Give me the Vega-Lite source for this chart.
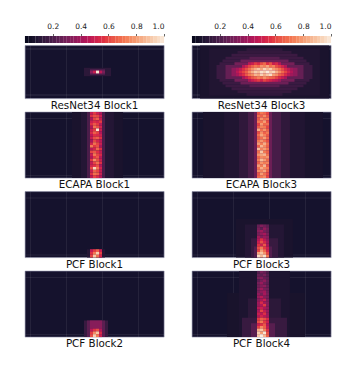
{"$schema":"https://vega.github.io/schema/vega-lite/v6.json","background":"white","padding":{"left":24,"top":22,"right":0,"bottom":0},"bounds":"flush","spacing":9.5,
"config":{"view":{"fill":"#15122d","stroke":"#8f8fa8","strokeWidth":0.6},"font":"DejaVu Sans","title":{"fontSize":10.35,"fontWeight":"normal","color":"#111111","orient":"bottom","offset":2,"anchor":"middle"},"axis":{"title":null,"labels":false,"ticks":false,"domain":false,"grid":true,"gridColor":"#ffffff","gridOpacity":0.07,"gridWidth":1,"zindex":1}},
"datasets":{
"cb":[{"v":0.0125},{"v":0.0375},{"v":0.0625},{"v":0.0875},{"v":0.1125},{"v":0.1375},{"v":0.1625},{"v":0.1875},{"v":0.2125},{"v":0.2375},{"v":0.2625},{"v":0.2875},{"v":0.3125},{"v":0.3375},{"v":0.3625},{"v":0.3875},{"v":0.4125},{"v":0.4375},{"v":0.4625},{"v":0.4875},{"v":0.5125},{"v":0.5375},{"v":0.5625},{"v":0.5875},{"v":0.6125},{"v":0.6375},{"v":0.6625},{"v":0.6875},{"v":0.7125},{"v":0.7375},{"v":0.7625},{"v":0.7875},{"v":0.8125},{"v":0.8375},{"v":0.8625},{"v":0.8875},{"v":0.9125},{"v":0.9375},{"v":0.9625},{"v":0.9875}],
"r1b":[{"x":20.5,"x2":29.5,"y":8.5,"y2":11.5,"v":0.12},{"x":22.5,"x2":27.5,"y":9,"y2":11,"v":0.22}],
"r1c":[{"x":23,"y":10,"v":0.34},{"x":24,"y":10,"v":0.5},{"x":25,"y":10,"v":0.98},{"x":26,"y":10,"v":0.46},{"x":27,"y":10,"v":0.3}],
"r3b":[{"x":3.5,"x2":46.5,"y":0.5,"y2":19.5,"v":0.07},{"x":6.5,"x2":43.5,"y":1.5,"y2":18.5,"v":0.09},{"x":19,"x2":31,"y":1.5,"y2":2.5,"v":0.13},{"x":19,"x2":31,"y":17.5,"y2":18.5,"v":0.13},{"x":16,"x2":34,"y":2.5,"y2":3.5,"v":0.14},{"x":16,"x2":34,"y":16.5,"y2":17.5,"v":0.14},{"x":14,"x2":36,"y":3.5,"y2":4.5,"v":0.16},{"x":14,"x2":36,"y":15.5,"y2":16.5,"v":0.16},{"x":12,"x2":38,"y":4.5,"y2":5.5,"v":0.16},{"x":12,"x2":38,"y":14.5,"y2":15.5,"v":0.16},{"x":20,"x2":30,"y":4.5,"y2":5.5,"v":0.23},{"x":20,"x2":30,"y":14.5,"y2":15.5,"v":0.23},{"x":11,"x2":39,"y":5.5,"y2":6.5,"v":0.16},{"x":11,"x2":39,"y":13.5,"y2":14.5,"v":0.16},{"x":17,"x2":33,"y":5.5,"y2":6.5,"v":0.28},{"x":17,"x2":33,"y":13.5,"y2":14.5,"v":0.28},{"x":10,"x2":40,"y":6.5,"y2":7.5,"v":0.16},{"x":10,"x2":40,"y":12.5,"y2":13.5,"v":0.16},{"x":15,"x2":35,"y":6.5,"y2":7.5,"v":0.3},{"x":15,"x2":35,"y":12.5,"y2":13.5,"v":0.3},{"x":9,"x2":41,"y":7.5,"y2":12.5,"v":0.16},{"x":12,"x2":38,"y":7.5,"y2":12.5,"v":0.26},{"x":14,"x2":36,"y":8.5,"y2":11.5,"v":0.36}],
"r3c":[{"x":20,"y":7,"v":0.46},{"x":21,"y":7,"v":0.5},{"x":22,"y":7,"v":0.58},{"x":23,"y":7,"v":0.54},{"x":24,"y":7,"v":0.62},{"x":25,"y":7,"v":0.68},{"x":26,"y":7,"v":0.56},{"x":27,"y":7,"v":0.62},{"x":28,"y":7,"v":0.5},{"x":29,"y":7,"v":0.54},{"x":30,"y":7,"v":0.44},
{"x":18,"y":8,"v":0.44},{"x":19,"y":8,"v":0.52},{"x":20,"y":8,"v":0.6},{"x":21,"y":8,"v":0.66},{"x":22,"y":8,"v":0.72},{"x":23,"y":8,"v":0.68},{"x":24,"y":8,"v":0.78},{"x":25,"y":8,"v":0.74},{"x":26,"y":8,"v":0.82},{"x":27,"y":8,"v":0.7},{"x":28,"y":8,"v":0.74},{"x":29,"y":8,"v":0.62},{"x":30,"y":8,"v":0.58},{"x":31,"y":8,"v":0.52},{"x":32,"y":8,"v":0.44},
{"x":16,"y":9,"v":0.42},{"x":17,"y":9,"v":0.48},{"x":18,"y":9,"v":0.56},{"x":19,"y":9,"v":0.62},{"x":20,"y":9,"v":0.7},{"x":21,"y":9,"v":0.78},{"x":22,"y":9,"v":0.84},{"x":23,"y":9,"v":0.9},{"x":24,"y":9,"v":0.82},{"x":25,"y":9,"v":0.94},{"x":26,"y":9,"v":0.86},{"x":27,"y":9,"v":0.92},{"x":28,"y":9,"v":0.8},{"x":29,"y":9,"v":0.76},{"x":30,"y":9,"v":0.7},{"x":31,"y":9,"v":0.62},{"x":32,"y":9,"v":0.54},{"x":33,"y":9,"v":0.48},{"x":34,"y":9,"v":0.4},
{"x":16,"y":10,"v":0.46},{"x":17,"y":10,"v":0.54},{"x":18,"y":10,"v":0.6},{"x":19,"y":10,"v":0.66},{"x":20,"y":10,"v":0.76},{"x":21,"y":10,"v":0.84},{"x":22,"y":10,"v":0.92},{"x":23,"y":10,"v":0.88},{"x":24,"y":10,"v":0.97},{"x":25,"y":10,"v":0.92},{"x":26,"y":10,"v":1},{"x":27,"y":10,"v":0.9},{"x":28,"y":10,"v":0.94},{"x":29,"y":10,"v":0.84},{"x":30,"y":10,"v":0.76},{"x":31,"y":10,"v":0.68},{"x":32,"y":10,"v":0.6},{"x":33,"y":10,"v":0.52},{"x":34,"y":10,"v":0.44},
{"x":16,"y":11,"v":0.42},{"x":17,"y":11,"v":0.5},{"x":18,"y":11,"v":0.56},{"x":19,"y":11,"v":0.64},{"x":20,"y":11,"v":0.72},{"x":21,"y":11,"v":0.76},{"x":22,"y":11,"v":0.86},{"x":23,"y":11,"v":0.82},{"x":24,"y":11,"v":0.93},{"x":25,"y":11,"v":0.84},{"x":26,"y":11,"v":0.9},{"x":27,"y":11,"v":0.96},{"x":28,"y":11,"v":0.8},{"x":29,"y":11,"v":0.76},{"x":30,"y":11,"v":0.66},{"x":31,"y":11,"v":0.62},{"x":32,"y":11,"v":0.54},{"x":33,"y":11,"v":0.46},{"x":34,"y":11,"v":0.4},
{"x":18,"y":12,"v":0.42},{"x":19,"y":12,"v":0.5},{"x":20,"y":12,"v":0.58},{"x":21,"y":12,"v":0.64},{"x":22,"y":12,"v":0.68},{"x":23,"y":12,"v":0.74},{"x":24,"y":12,"v":0.7},{"x":25,"y":12,"v":0.78},{"x":26,"y":12,"v":0.72},{"x":27,"y":12,"v":0.68},{"x":28,"y":12,"v":0.66},{"x":29,"y":12,"v":0.6},{"x":30,"y":12,"v":0.54},{"x":31,"y":12,"v":0.48},{"x":32,"y":12,"v":0.42},
{"x":20,"y":13,"v":0.44},{"x":21,"y":13,"v":0.5},{"x":22,"y":13,"v":0.54},{"x":23,"y":13,"v":0.58},{"x":24,"y":13,"v":0.52},{"x":25,"y":13,"v":0.6},{"x":26,"y":13,"v":0.56},{"x":27,"y":13,"v":0.52},{"x":28,"y":13,"v":0.48},{"x":29,"y":13,"v":0.46},{"x":30,"y":13,"v":0.4}],
"e1b":[{"x":16.5,"x2":33.5,"y":0.5,"y2":24.5,"v":0.07},{"x":19.5,"x2":30.5,"y":0.5,"y2":24.5,"v":0.1},{"x":21.5,"x2":22.5,"y":0.5,"y2":24.5,"v":0.2},{"x":26.5,"x2":27.5,"y":0.5,"y2":24.5,"v":0.2}],
"e1c":[{"x":23,"y":1,"v":0.48},{"x":24,"y":1,"v":0.58},{"x":25,"y":1,"v":0.5},{"x":26,"y":1,"v":0.42},{"x":23,"y":2,"v":0.55},{"x":24,"y":2,"v":0.62},{"x":25,"y":2,"v":0.6},{"x":26,"y":2,"v":0.5},{"x":23,"y":3,"v":0.42},{"x":24,"y":3,"v":0.6},{"x":25,"y":3,"v":0.66},{"x":26,"y":3,"v":0.48},{"x":23,"y":4,"v":0.5},{"x":24,"y":4,"v":0.55},{"x":25,"y":4,"v":0.52},{"x":26,"y":4,"v":0.58},{"x":23,"y":5,"v":0.56},{"x":24,"y":5,"v":0.64},{"x":25,"y":5,"v":0.58},{"x":26,"y":5,"v":0.46},{"x":23,"y":6,"v":0.44},{"x":24,"y":6,"v":0.7},{"x":25,"y":6,"v":0.62},{"x":26,"y":6,"v":0.52},{"x":23,"y":7,"v":0.5},{"x":24,"y":7,"v":0.58},{"x":25,"y":7,"v":0.98},{"x":26,"y":7,"v":0.5},{"x":23,"y":8,"v":0.54},{"x":24,"y":8,"v":0.66},{"x":25,"y":8,"v":0.6},{"x":26,"y":8,"v":0.44},{"x":23,"y":9,"v":0.46},{"x":24,"y":9,"v":0.56},{"x":25,"y":9,"v":0.54},{"x":26,"y":9,"v":0.5},{"x":23,"y":10,"v":0.5},{"x":24,"y":10,"v":0.62},{"x":25,"y":10,"v":0.66},{"x":26,"y":10,"v":0.56},{"x":23,"y":11,"v":0.42},{"x":24,"y":11,"v":0.6},{"x":25,"y":11,"v":0.52},{"x":26,"y":11,"v":0.46},{"x":23,"y":12,"v":0.52},{"x":24,"y":12,"v":0.7},{"x":25,"y":12,"v":0.6},{"x":26,"y":12,"v":0.5},{"x":23,"y":13,"v":0.72},{"x":24,"y":13,"v":0.58},{"x":25,"y":13,"v":0.62},{"x":26,"y":13,"v":0.42},{"x":23,"y":14,"v":0.46},{"x":24,"y":14,"v":0.52},{"x":25,"y":14,"v":0.68},{"x":26,"y":14,"v":0.56},{"x":23,"y":15,"v":0.6},{"x":24,"y":15,"v":0.64},{"x":25,"y":15,"v":0.56},{"x":26,"y":15,"v":0.48},{"x":23,"y":16,"v":0.5},{"x":24,"y":16,"v":0.72},{"x":25,"y":16,"v":0.6},{"x":26,"y":16,"v":0.54},{"x":23,"y":17,"v":0.44},{"x":24,"y":17,"v":0.58},{"x":25,"y":17,"v":0.64},{"x":26,"y":17,"v":0.46},{"x":23,"y":18,"v":0.58},{"x":24,"y":18,"v":0.76},{"x":25,"y":18,"v":0.62},{"x":26,"y":18,"v":0.5},{"x":23,"y":19,"v":0.48},{"x":24,"y":19,"v":0.6},{"x":25,"y":19,"v":0.7},{"x":26,"y":19,"v":0.56},{"x":23,"y":20,"v":0.52},{"x":24,"y":20,"v":0.56},{"x":25,"y":20,"v":0.62},{"x":26,"y":20,"v":0.44},{"x":23,"y":21,"v":0.62},{"x":24,"y":21,"v":0.94},{"x":25,"y":21,"v":0.72},{"x":26,"y":21,"v":0.52},{"x":23,"y":22,"v":0.5},{"x":24,"y":22,"v":0.66},{"x":25,"y":22,"v":0.6},{"x":26,"y":22,"v":0.48},{"x":23,"y":23,"v":0.56},{"x":24,"y":23,"v":0.7},{"x":25,"y":23,"v":0.66},{"x":26,"y":23,"v":0.5},{"x":23,"y":24,"v":0.46},{"x":24,"y":24,"v":0.6},{"x":25,"y":24,"v":0.54},{"x":26,"y":24,"v":0.44}],
"e3b":[{"x":4.5,"x2":44.5,"y":0.5,"y2":24.5,"v":0.07},{"x":11.5,"x2":38.5,"y":0.5,"y2":24.5,"v":0.09},{"x":16.5,"x2":33.5,"y":0.5,"y2":24.5,"v":0.13},{"x":19.5,"x2":30.5,"y":0.5,"y2":24.5,"v":0.19},{"x":21.5,"x2":27.5,"y":0.5,"y2":24.5,"v":0.28}],
"e3c":[{"x":23,"y":1,"v":0.62},{"x":24,"y":1,"v":0.72},{"x":25,"y":1,"v":0.68},{"x":26,"y":1,"v":0.6},{"x":23,"y":2,"v":0.7},{"x":24,"y":2,"v":0.66},{"x":25,"y":2,"v":0.76},{"x":26,"y":2,"v":0.64},{"x":23,"y":3,"v":0.64},{"x":24,"y":3,"v":0.78},{"x":25,"y":3,"v":0.7},{"x":26,"y":3,"v":0.72},{"x":23,"y":4,"v":0.72},{"x":24,"y":4,"v":0.7},{"x":25,"y":4,"v":0.8},{"x":26,"y":4,"v":0.62},{"x":23,"y":5,"v":0.6},{"x":24,"y":5,"v":0.8},{"x":25,"y":5,"v":0.68},{"x":26,"y":5,"v":0.7},{"x":23,"y":6,"v":0.66},{"x":24,"y":6,"v":0.74},{"x":25,"y":6,"v":0.72},{"x":26,"y":6,"v":0.6},{"x":23,"y":7,"v":0.84},{"x":24,"y":7,"v":0.7},{"x":25,"y":7,"v":0.78},{"x":26,"y":7,"v":0.66},{"x":23,"y":8,"v":0.62},{"x":24,"y":8,"v":0.76},{"x":25,"y":8,"v":0.66},{"x":26,"y":8,"v":0.72},{"x":23,"y":9,"v":0.7},{"x":24,"y":9,"v":0.82},{"x":25,"y":9,"v":0.74},{"x":26,"y":9,"v":0.64},{"x":23,"y":10,"v":0.64},{"x":24,"y":10,"v":0.7},{"x":25,"y":10,"v":0.8},{"x":26,"y":10,"v":0.68},{"x":23,"y":11,"v":0.72},{"x":24,"y":11,"v":0.78},{"x":25,"y":11,"v":0.7},{"x":26,"y":11,"v":0.62},{"x":23,"y":12,"v":0.8},{"x":24,"y":12,"v":0.72},{"x":25,"y":12,"v":0.84},{"x":26,"y":12,"v":0.7},{"x":23,"y":13,"v":0.66},{"x":24,"y":13,"v":0.86},{"x":25,"y":13,"v":0.76},{"x":26,"y":13,"v":0.66},{"x":23,"y":14,"v":0.88},{"x":24,"y":14,"v":0.74},{"x":25,"y":14,"v":0.8},{"x":26,"y":14,"v":0.72},{"x":23,"y":15,"v":0.7},{"x":24,"y":15,"v":0.9},{"x":25,"y":15,"v":0.72},{"x":26,"y":15,"v":0.66},{"x":23,"y":16,"v":0.78},{"x":24,"y":16,"v":0.82},{"x":25,"y":16,"v":0.86},{"x":26,"y":16,"v":0.7},{"x":23,"y":17,"v":0.68},{"x":24,"y":17,"v":0.76},{"x":25,"y":17,"v":0.74},{"x":26,"y":17,"v":0.78},{"x":23,"y":18,"v":0.74},{"x":24,"y":18,"v":0.88},{"x":25,"y":18,"v":0.8},{"x":26,"y":18,"v":0.68},{"x":23,"y":19,"v":0.66},{"x":24,"y":19,"v":0.78},{"x":25,"y":19,"v":0.72},{"x":26,"y":19,"v":0.74},{"x":23,"y":20,"v":0.8},{"x":24,"y":20,"v":0.72},{"x":25,"y":20,"v":0.86},{"x":26,"y":20,"v":0.64},{"x":23,"y":21,"v":0.7},{"x":24,"y":21,"v":0.84},{"x":25,"y":21,"v":0.76},{"x":26,"y":21,"v":0.72},{"x":23,"y":22,"v":0.76},{"x":24,"y":22,"v":0.74},{"x":25,"y":22,"v":0.82},{"x":26,"y":22,"v":0.66},{"x":23,"y":23,"v":0.64},{"x":24,"y":23,"v":0.8},{"x":25,"y":23,"v":0.7},{"x":26,"y":23,"v":0.62},{"x":23,"y":24,"v":0.68},{"x":24,"y":24,"v":0.72},{"x":25,"y":24,"v":0.76},{"x":26,"y":24,"v":0.6}],
"p1b":[{"x":21.5,"x2":27.5,"y":21.5,"y2":24.5,"v":0.1}],
"p1c":[{"x":23,"y":22,"v":0.48},{"x":24,"y":22,"v":0.58},{"x":25,"y":22,"v":0.66},{"x":26,"y":22,"v":0.5},{"x":23,"y":23,"v":0.56},{"x":24,"y":23,"v":0.72},{"x":25,"y":23,"v":0.92},{"x":26,"y":23,"v":0.6},{"x":23,"y":24,"v":0.6},{"x":24,"y":24,"v":0.9},{"x":25,"y":24,"v":0.7},{"x":26,"y":24,"v":0.52}],
"p2b":[{"x":20.5,"x2":28.5,"y":18.5,"y2":24.5,"v":0.15},{"x":21.5,"x2":27.5,"y":18.5,"y2":24.5,"v":0.24},{"x":22.5,"x2":26.5,"y":18.5,"y2":21.5,"v":0.34}],
"p2c":[{"x":23,"y":22,"v":0.46},{"x":24,"y":22,"v":0.56},{"x":25,"y":22,"v":0.62},{"x":26,"y":22,"v":0.44},{"x":23,"y":23,"v":0.58},{"x":24,"y":23,"v":0.76},{"x":25,"y":23,"v":0.9},{"x":26,"y":23,"v":0.54},{"x":23,"y":24,"v":0.62},{"x":24,"y":24,"v":0.92},{"x":25,"y":24,"v":0.72},{"x":26,"y":24,"v":0.5}],
"p3b":[{"x":15.5,"x2":34.5,"y":10.5,"y2":24.5,"v":0.07},{"x":18.5,"x2":31.5,"y":12.5,"y2":24.5,"v":0.1},{"x":20.5,"x2":29.5,"y":17.5,"y2":24.5,"v":0.15},{"x":21.5,"x2":27.5,"y":20.5,"y2":24.5,"v":0.22}],
"p3c":[{"x":23,"y":13,"v":0.26},{"x":24,"y":13,"v":0.32},{"x":25,"y":13,"v":0.28},{"x":26,"y":13,"v":0.24},{"x":23,"y":14,"v":0.3},{"x":24,"y":14,"v":0.24},{"x":25,"y":14,"v":0.36},{"x":26,"y":14,"v":0.28},{"x":23,"y":15,"v":0.34},{"x":24,"y":15,"v":0.4},{"x":25,"y":15,"v":0.3},{"x":26,"y":15,"v":0.26},{"x":23,"y":16,"v":0.3},{"x":24,"y":16,"v":0.36},{"x":25,"y":16,"v":0.42},{"x":26,"y":16,"v":0.3},{"x":23,"y":17,"v":0.4},{"x":24,"y":17,"v":0.32},{"x":25,"y":17,"v":0.38},{"x":26,"y":17,"v":0.34},{"x":23,"y":18,"v":0.44},{"x":24,"y":18,"v":0.56},{"x":25,"y":18,"v":0.46},{"x":26,"y":18,"v":0.36},{"x":23,"y":19,"v":0.5},{"x":24,"y":19,"v":0.62},{"x":25,"y":19,"v":0.52},{"x":26,"y":19,"v":0.4},{"x":23,"y":20,"v":0.56},{"x":24,"y":20,"v":0.5},{"x":25,"y":20,"v":0.64},{"x":26,"y":20,"v":0.42},{"x":23,"y":21,"v":0.62},{"x":24,"y":21,"v":0.72},{"x":25,"y":21,"v":0.58},{"x":26,"y":21,"v":0.5},{"x":23,"y":22,"v":0.6},{"x":24,"y":22,"v":0.8},{"x":25,"y":22,"v":0.68},{"x":26,"y":22,"v":0.52},{"x":23,"y":23,"v":0.82},{"x":24,"y":23,"v":0.9},{"x":25,"y":23,"v":0.78},{"x":26,"y":23,"v":0.6},{"x":23,"y":24,"v":0.95},{"x":24,"y":24,"v":0.86},{"x":25,"y":24,"v":0.97},{"x":26,"y":24,"v":0.72}],
"p4b":[{"x":12.5,"x2":38.5,"y":8.5,"y2":24.5,"v":0.065},{"x":16.5,"x2":33.5,"y":0.5,"y2":24.5,"v":0.08},{"x":19.5,"x2":30.5,"y":10.5,"y2":24.5,"v":0.12},{"x":17.5,"x2":32.5,"y":17.5,"y2":24.5,"v":0.15},{"x":20.5,"x2":28.5,"y":19.5,"y2":24.5,"v":0.23}],
"p4c":[{"x":23,"y":1,"v":0.22},{"x":24,"y":1,"v":0.3},{"x":25,"y":1,"v":0.26},{"x":26,"y":1,"v":0.2},{"x":23,"y":2,"v":0.26},{"x":24,"y":2,"v":0.24},{"x":25,"y":2,"v":0.3},{"x":26,"y":2,"v":0.22},{"x":23,"y":3,"v":0.3},{"x":24,"y":3,"v":0.34},{"x":25,"y":3,"v":0.26},{"x":26,"y":3,"v":0.24},{"x":23,"y":4,"v":0.24},{"x":24,"y":4,"v":0.3},{"x":25,"y":4,"v":0.36},{"x":26,"y":4,"v":0.26},{"x":23,"y":5,"v":0.3},{"x":24,"y":5,"v":0.38},{"x":25,"y":5,"v":0.28},{"x":26,"y":5,"v":0.24},{"x":23,"y":6,"v":0.28},{"x":24,"y":6,"v":0.32},{"x":25,"y":6,"v":0.36},{"x":26,"y":6,"v":0.26},{"x":23,"y":7,"v":0.32},{"x":24,"y":7,"v":0.4},{"x":25,"y":7,"v":0.3},{"x":26,"y":7,"v":0.28},{"x":23,"y":8,"v":0.3},{"x":24,"y":8,"v":0.36},{"x":25,"y":8,"v":0.4},{"x":26,"y":8,"v":0.28},{"x":23,"y":9,"v":0.36},{"x":24,"y":9,"v":0.3},{"x":25,"y":9,"v":0.42},{"x":26,"y":9,"v":0.3},{"x":23,"y":10,"v":0.38},{"x":24,"y":10,"v":0.46},{"x":25,"y":10,"v":0.34},{"x":26,"y":10,"v":0.3},{"x":23,"y":11,"v":0.34},{"x":24,"y":11,"v":0.42},{"x":25,"y":11,"v":0.5},{"x":26,"y":11,"v":0.32},{"x":23,"y":12,"v":0.4},{"x":24,"y":12,"v":0.54},{"x":25,"y":12,"v":0.4},{"x":26,"y":12,"v":0.34},{"x":23,"y":13,"v":0.38},{"x":24,"y":13,"v":0.44},{"x":25,"y":13,"v":0.58},{"x":26,"y":13,"v":0.34},{"x":23,"y":14,"v":0.46},{"x":24,"y":14,"v":0.5},{"x":25,"y":14,"v":0.42},{"x":26,"y":14,"v":0.36},{"x":23,"y":15,"v":0.42},{"x":24,"y":15,"v":0.6},{"x":25,"y":15,"v":0.48},{"x":26,"y":15,"v":0.38},{"x":23,"y":16,"v":0.5},{"x":24,"y":16,"v":0.46},{"x":25,"y":16,"v":0.56},{"x":26,"y":16,"v":0.38},{"x":23,"y":17,"v":0.44},{"x":24,"y":17,"v":0.52},{"x":25,"y":17,"v":0.46},{"x":26,"y":17,"v":0.4},{"x":23,"y":18,"v":0.58},{"x":24,"y":18,"v":0.66},{"x":25,"y":18,"v":0.62},{"x":26,"y":18,"v":0.54},{"x":23,"y":19,"v":0.62},{"x":24,"y":19,"v":0.72},{"x":25,"y":19,"v":0.58},{"x":26,"y":19,"v":0.5},{"x":23,"y":20,"v":0.5},{"x":24,"y":20,"v":0.56},{"x":25,"y":20,"v":0.64},{"x":26,"y":20,"v":0.44},{"x":23,"y":21,"v":0.6},{"x":24,"y":21,"v":0.76},{"x":25,"y":21,"v":0.66},{"x":26,"y":21,"v":0.48},{"x":23,"y":22,"v":0.84},{"x":24,"y":22,"v":0.9},{"x":25,"y":22,"v":0.74},{"x":26,"y":22,"v":0.56},{"x":23,"y":23,"v":0.92},{"x":24,"y":23,"v":0.8},{"x":25,"y":23,"v":0.98},{"x":26,"y":23,"v":0.62},{"x":23,"y":24,"v":0.9},{"x":24,"y":24,"v":1},{"x":25,"y":24,"v":0.86},{"x":26,"y":24,"v":0.66}]
},
"vconcat":[
{"hconcat":[
{"width":139,"height":7,"view":{"stroke":null,"fill":null},"data":{"name":"cb"},"mark":{"type":"rect","width":3.6},"encoding":{"x":{"field":"v","type":"quantitative","scale":{"domain":[0,1],"nice":false},"axis":{"orient":"top","values":[0.2,0.4,0.6,0.8,1],"format":".1f","labels":true,"ticks":true,"tickSize":2.5,"tickColor":"#222222","tickWidth":0.7,"labelFontSize":7.5,"labelColor":"#222222","labelPadding":3,"grid":false}},"color":{"field":"v","type":"quantitative","scale":{"domain":[0,0.143,0.286,0.429,0.571,0.714,0.857,1],"range":["#03051a","#35193e","#701f57","#ad1759","#e13342","#f37651","#f6b48f","#faebdd"]},"legend":null}}},
{"width":139,"height":7,"view":{"stroke":null,"fill":null},"data":{"name":"cb"},"mark":{"type":"rect","width":3.6},"encoding":{"x":{"field":"v","type":"quantitative","scale":{"domain":[0,1],"nice":false},"axis":{"orient":"top","values":[0.2,0.4,0.6,0.8,1],"format":".1f","labels":true,"ticks":true,"tickSize":2.5,"tickColor":"#222222","tickWidth":0.7,"labelFontSize":7.5,"labelColor":"#222222","labelPadding":3,"grid":false}},"color":{"field":"v","type":"quantitative","scale":{"domain":[0,0.143,0.286,0.429,0.571,0.714,0.857,1],"range":["#03051a","#35193e","#701f57","#ad1759","#e13342","#f37651","#f6b48f","#faebdd"]},"legend":null}}}
],"spacing":28,"bounds":"flush"},
{"columns":2,"spacing":{"column":28,"row":13.5},"bounds":"flush","concat":[
{"title":"ResNet34 Block1","width":139,"height":53,"encoding":{"color":{"field":"v","type":"quantitative","scale":{"domain":[0,0.143,0.286,0.429,0.571,0.714,0.857,1],"range":["#03051a","#35193e","#701f57","#ad1759","#e13342","#f37651","#f6b48f","#faebdd"]},"legend":null}},"layer":[{"data":{"name":"r1b"},"mark":"rect","encoding":{"x":{"field":"x","type":"quantitative","scale":{"domain":[0.83,47.17],"nice":false,"zero":false},"axis":{"values":[2.5,5.5,8.5,11.5,14.5,17.5,20.5,23.5,26.5,29.5,32.5,35.5,38.5,41.5,44.5]}},"x2":{"field":"x2"},"y":{"field":"y","type":"quantitative","scale":{"domain":[19.5,0.5],"nice":false,"zero":false},"axis":{"values":[1.5,3,4.5,5.5,7,8.5,9.5,11,12.5,13.5,15,16.5,18],"gridOpacity":0.12}},"y2":{"field":"y2"}}},{"data":{"name":"r1c"},"mark":{"type":"rect","width":3.02,"height":2.85},"encoding":{"x":{"field":"x","type":"quantitative"},"y":{"field":"y","type":"quantitative"}}}]},
{"title":"ResNet34 Block3","width":139,"height":53,"encoding":{"color":{"field":"v","type":"quantitative","scale":{"domain":[0,0.143,0.286,0.429,0.571,0.714,0.857,1],"range":["#03051a","#35193e","#701f57","#ad1759","#e13342","#f37651","#f6b48f","#faebdd"]},"legend":null}},"layer":[{"data":{"name":"r3b"},"mark":"rect","encoding":{"x":{"field":"x","type":"quantitative","scale":{"domain":[0.83,47.17],"nice":false,"zero":false},"axis":{"values":[2.5,5.5,8.5,11.5,14.5,17.5,20.5,23.5,26.5,29.5,32.5,35.5,38.5,41.5,44.5]}},"x2":{"field":"x2"},"y":{"field":"y","type":"quantitative","scale":{"domain":[19.5,0.5],"nice":false,"zero":false},"axis":{"values":[1.5,3,4.5,5.5,7,8.5,9.5,11,12.5,13.5,15,16.5,18],"gridOpacity":0.12}},"y2":{"field":"y2"}}},{"data":{"name":"r3c"},"mark":{"type":"rect","width":3.02,"height":2.85},"encoding":{"x":{"field":"x","type":"quantitative"},"y":{"field":"y","type":"quantitative"}}}]},
{"title":"ECAPA Block1","width":139,"height":66,"encoding":{"color":{"field":"v","type":"quantitative","scale":{"domain":[0,0.143,0.286,0.429,0.571,0.714,0.857,1],"range":["#03051a","#35193e","#701f57","#ad1759","#e13342","#f37651","#f6b48f","#faebdd"]},"legend":null}},"layer":[{"data":{"name":"e1b"},"mark":"rect","encoding":{"x":{"field":"x","type":"quantitative","scale":{"domain":[0.83,47.17],"nice":false,"zero":false},"axis":{"values":[2.5,5.5,8.5,11.5,14.5,17.5,20.5,23.5,26.5,29.5,32.5,35.5,38.5,41.5,44.5]}},"x2":{"field":"x2"},"y":{"field":"y","type":"quantitative","scale":{"domain":[24.5,0.5],"nice":false,"zero":false},"axis":{"values":[2.5,5.5,8.5,11.5,14.5,17.5,20.5,23.5]}},"y2":{"field":"y2"}}},{"data":{"name":"e1c"},"mark":{"type":"rect","width":3.02,"height":2.85},"encoding":{"x":{"field":"x","type":"quantitative"},"y":{"field":"y","type":"quantitative"}}}]},
{"title":"ECAPA Block3","width":139,"height":66,"encoding":{"color":{"field":"v","type":"quantitative","scale":{"domain":[0,0.143,0.286,0.429,0.571,0.714,0.857,1],"range":["#03051a","#35193e","#701f57","#ad1759","#e13342","#f37651","#f6b48f","#faebdd"]},"legend":null}},"layer":[{"data":{"name":"e3b"},"mark":"rect","encoding":{"x":{"field":"x","type":"quantitative","scale":{"domain":[0.83,47.17],"nice":false,"zero":false},"axis":{"values":[2.5,5.5,8.5,11.5,14.5,17.5,20.5,23.5,26.5,29.5,32.5,35.5,38.5,41.5,44.5]}},"x2":{"field":"x2"},"y":{"field":"y","type":"quantitative","scale":{"domain":[24.5,0.5],"nice":false,"zero":false},"axis":{"values":[2.5,5.5,8.5,11.5,14.5,17.5,20.5,23.5]}},"y2":{"field":"y2"}}},{"data":{"name":"e3c"},"mark":{"type":"rect","width":3.02,"height":2.85},"encoding":{"x":{"field":"x","type":"quantitative"},"y":{"field":"y","type":"quantitative"}}}]},
{"title":"PCF Block1","width":139,"height":66,"encoding":{"color":{"field":"v","type":"quantitative","scale":{"domain":[0,0.143,0.286,0.429,0.571,0.714,0.857,1],"range":["#03051a","#35193e","#701f57","#ad1759","#e13342","#f37651","#f6b48f","#faebdd"]},"legend":null}},"layer":[{"data":{"name":"p1b"},"mark":"rect","encoding":{"x":{"field":"x","type":"quantitative","scale":{"domain":[0.83,47.17],"nice":false,"zero":false},"axis":{"values":[2.5,5.5,8.5,11.5,14.5,17.5,20.5,23.5,26.5,29.5,32.5,35.5,38.5,41.5,44.5]}},"x2":{"field":"x2"},"y":{"field":"y","type":"quantitative","scale":{"domain":[24.5,0.5],"nice":false,"zero":false},"axis":{"values":[2.5,5.5,8.5,11.5,14.5,17.5,20.5,23.5]}},"y2":{"field":"y2"}}},{"data":{"name":"p1c"},"mark":{"type":"rect","width":3.02,"height":2.85},"encoding":{"x":{"field":"x","type":"quantitative"},"y":{"field":"y","type":"quantitative"}}}]},
{"title":"PCF Block3","width":139,"height":66,"encoding":{"color":{"field":"v","type":"quantitative","scale":{"domain":[0,0.143,0.286,0.429,0.571,0.714,0.857,1],"range":["#03051a","#35193e","#701f57","#ad1759","#e13342","#f37651","#f6b48f","#faebdd"]},"legend":null}},"layer":[{"data":{"name":"p3b"},"mark":"rect","encoding":{"x":{"field":"x","type":"quantitative","scale":{"domain":[0.83,47.17],"nice":false,"zero":false},"axis":{"values":[2.5,5.5,8.5,11.5,14.5,17.5,20.5,23.5,26.5,29.5,32.5,35.5,38.5,41.5,44.5]}},"x2":{"field":"x2"},"y":{"field":"y","type":"quantitative","scale":{"domain":[24.5,0.5],"nice":false,"zero":false},"axis":{"values":[2.5,5.5,8.5,11.5,14.5,17.5,20.5,23.5]}},"y2":{"field":"y2"}}},{"data":{"name":"p3c"},"mark":{"type":"rect","width":3.02,"height":2.85},"encoding":{"x":{"field":"x","type":"quantitative"},"y":{"field":"y","type":"quantitative"}}}]},
{"title":"PCF Block2","width":139,"height":66,"encoding":{"color":{"field":"v","type":"quantitative","scale":{"domain":[0,0.143,0.286,0.429,0.571,0.714,0.857,1],"range":["#03051a","#35193e","#701f57","#ad1759","#e13342","#f37651","#f6b48f","#faebdd"]},"legend":null}},"layer":[{"data":{"name":"p2b"},"mark":"rect","encoding":{"x":{"field":"x","type":"quantitative","scale":{"domain":[0.83,47.17],"nice":false,"zero":false},"axis":{"values":[2.5,5.5,8.5,11.5,14.5,17.5,20.5,23.5,26.5,29.5,32.5,35.5,38.5,41.5,44.5]}},"x2":{"field":"x2"},"y":{"field":"y","type":"quantitative","scale":{"domain":[24.5,0.5],"nice":false,"zero":false},"axis":{"values":[2.5,5.5,8.5,11.5,14.5,17.5,20.5,23.5]}},"y2":{"field":"y2"}}},{"data":{"name":"p2c"},"mark":{"type":"rect","width":3.02,"height":2.85},"encoding":{"x":{"field":"x","type":"quantitative"},"y":{"field":"y","type":"quantitative"}}}]},
{"title":"PCF Block4","width":139,"height":66,"encoding":{"color":{"field":"v","type":"quantitative","scale":{"domain":[0,0.143,0.286,0.429,0.571,0.714,0.857,1],"range":["#03051a","#35193e","#701f57","#ad1759","#e13342","#f37651","#f6b48f","#faebdd"]},"legend":null}},"layer":[{"data":{"name":"p4b"},"mark":"rect","encoding":{"x":{"field":"x","type":"quantitative","scale":{"domain":[0.83,47.17],"nice":false,"zero":false},"axis":{"values":[2.5,5.5,8.5,11.5,14.5,17.5,20.5,23.5,26.5,29.5,32.5,35.5,38.5,41.5,44.5]}},"x2":{"field":"x2"},"y":{"field":"y","type":"quantitative","scale":{"domain":[24.5,0.5],"nice":false,"zero":false},"axis":{"values":[2.5,5.5,8.5,11.5,14.5,17.5,20.5,23.5]}},"y2":{"field":"y2"}}},{"data":{"name":"p4c"},"mark":{"type":"rect","width":3.02,"height":2.85},"encoding":{"x":{"field":"x","type":"quantitative"},"y":{"field":"y","type":"quantitative"}}}]}
]}
]}
